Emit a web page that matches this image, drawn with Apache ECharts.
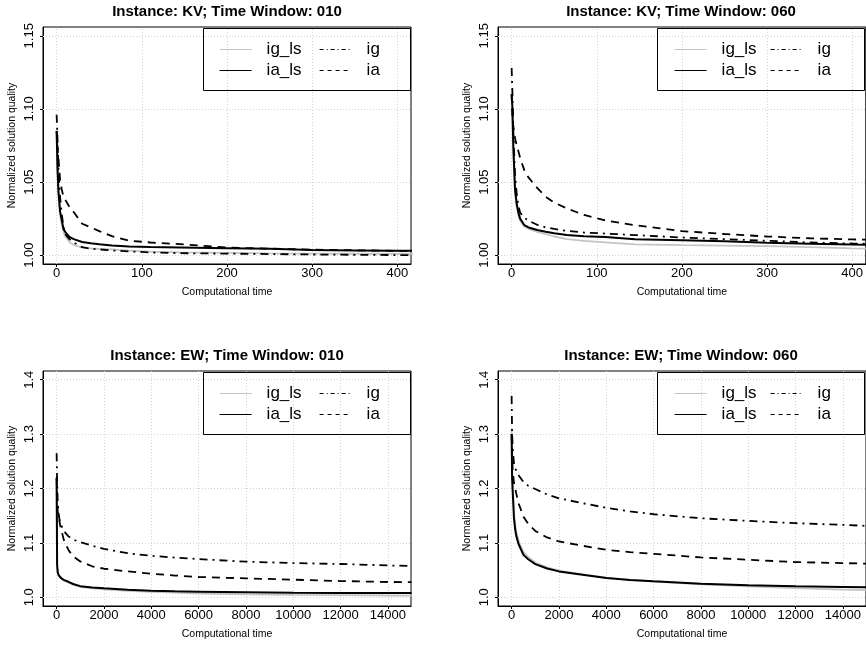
<!DOCTYPE html>
<html><head><meta charset="utf-8">
<script src="https://cdn.jsdelivr.net/npm/echarts@6/dist/echarts.min.js"></script>
<style>html,body{margin:0;padding:0;background:#fff}#c{width:866px;height:646px}</style>
</head><body><div id="c"></div>
<script>
// ---------- data ----------
const seriesNames = ['ig_ls', 'ia_ls', 'ig', 'ia'];
const panelTitles = ['Instance: KV; Time Window: 010', 'Instance: KV; Time Window: 060',
                     'Instance: EW; Time Window: 010', 'Instance: EW; Time Window: 060'];
const xAxisTitle = 'Computational time';
const yAxisTitle = 'Normalized solution quality';

const kvTicksX = [0, 100, 200, 300, 400];
const kvTicksY = [1.00, 1.05, 1.10, 1.15];
const ewTicksX = [0, 2000, 4000, 6000, 8000, 10000, 12000, 14000];
const ewTicksY = [1.0, 1.1, 1.2, 1.3, 1.4];

// KV, time window 010
const kv010_x     = [0, 1, 2, 4, 6, 8, 10, 15, 20, 30, 40, 50, 65, 85, 110, 145, 200, 250, 300, 350, 400, 420];
const kv010_ig_ls = [1.082, 1.058, 1.042, 1.028, 1.021, 1.016, 1.013, 1.009, 1.007, 1.0052, 1.0047, 1.0044, 1.004, 1.0032, 1.0024, 1.002, 1.0016, 1.0013, 1.0011, 1.001, 1.001, 1.001];
const kv010_ia_ls = [1.085, 1.060, 1.045, 1.030, 1.024, 1.018, 1.016, 1.0125, 1.011, 1.009, 1.0082, 1.0075, 1.0066, 1.0060, 1.0056, 1.0053, 1.0048, 1.0044, 1.0036, 1.0033, 1.003, 1.003];
const kv010_ig    = [1.096, 1.080, 1.060, 1.040, 1.028, 1.020, 1.0144, 1.011, 1.0087, 1.0055, 1.0045, 1.004, 1.0032, 1.0026, 1.0019, 1.0014, 1.0011, 1.0008, 1.0005, 1.0003, 1.0001, 1.0];
const kv010_ia    = [1.085, 1.075, 1.067, 1.052, 1.045, 1.040, 1.038, 1.033, 1.0295, 1.0215, 1.019, 1.0165, 1.013, 1.0100, 1.0087, 1.0076, 1.0052, 1.0045, 1.0038, 1.0034, 1.003, 1.003];

// KV, time window 060
const kv060_x     = [0, 1, 2, 4, 6, 8, 10, 15, 20, 30, 40, 50, 65, 85, 110, 145, 200, 250, 300, 350, 400, 420];
const kv060_ig_ls = [1.100, 1.090, 1.070, 1.043, 1.033, 1.027, 1.0235, 1.0195, 1.018, 1.016, 1.0145, 1.0128, 1.011, 1.0098, 1.0088, 1.0074, 1.0069, 1.0066, 1.0062, 1.0055, 1.0047, 1.0045];
const kv060_ia_ls = [1.110, 1.100, 1.074, 1.045, 1.035, 1.029, 1.025, 1.0205, 1.019, 1.0172, 1.016, 1.015, 1.0138, 1.013, 1.0125, 1.011, 1.0103, 1.0095, 1.0085, 1.0078, 1.0073, 1.0072];
const kv060_ig    = [1.128, 1.110, 1.085, 1.055, 1.042, 1.034, 1.029, 1.0255, 1.0236, 1.0208, 1.019, 1.018, 1.0166, 1.0155, 1.0148, 1.0138, 1.0121, 1.011, 1.0099, 1.0087, 1.008, 1.0078];
const kv060_ia    = [1.110, 1.095, 1.088, 1.080, 1.075, 1.071, 1.0665, 1.058, 1.053, 1.046, 1.040, 1.036, 1.032, 1.0275, 1.0238, 1.0205, 1.0165, 1.0145, 1.0128, 1.0116, 1.0108, 1.0106];

// EW, time window 010
const ew010_x     = [0, 20, 50, 100, 150, 200, 300, 500, 700, 1000, 1500, 2000, 3000, 4000, 5000, 6000, 8000, 10000, 12000, 14000, 15000];
const ew010_ig_ls = [1.21, 1.055, 1.044, 1.039, 1.036, 1.034, 1.031, 1.027, 1.023, 1.019, 1.0165, 1.0148, 1.012, 1.010, 1.0085, 1.007, 1.0055, 1.0045, 1.004, 1.0033, 1.003];
const ew010_ia_ls = [1.22, 1.06, 1.045, 1.040, 1.037, 1.035, 1.032, 1.0285, 1.0244, 1.0205, 1.018, 1.0165, 1.014, 1.0122, 1.011, 1.0104, 1.0092, 1.0082, 1.008, 1.0079, 1.0079];
const ew010_ig    = [1.265, 1.21, 1.17, 1.148, 1.138, 1.132, 1.122, 1.112, 1.106, 1.1015, 1.095, 1.089, 1.081, 1.0763, 1.073, 1.0702, 1.0655, 1.0629, 1.0612, 1.0586, 1.0575];
const ew010_ia    = [1.22, 1.18, 1.155, 1.145, 1.132, 1.124, 1.106, 1.087, 1.075, 1.066, 1.057, 1.0525, 1.0476, 1.0434, 1.040, 1.0373, 1.0348, 1.0324, 1.0299, 1.0281, 1.028];

// EW, time window 060
const ew060_x     = [0, 20, 50, 100, 150, 200, 300, 500, 700, 1000, 1500, 2000, 3000, 4000, 5000, 6000, 8000, 10000, 12000, 14000, 15000];
const ew060_ig_ls = [1.31, 1.23, 1.20, 1.155, 1.133, 1.12, 1.103, 1.083, 1.074, 1.064, 1.055, 1.049, 1.042, 1.036, 1.032, 1.029, 1.024, 1.020, 1.017, 1.014, 1.013];
const ew060_ia_ls = [1.30, 1.22, 1.19, 1.145, 1.125, 1.112, 1.097, 1.078, 1.070, 1.061, 1.053, 1.0476, 1.0415, 1.0354, 1.032, 1.0293, 1.025, 1.022, 1.0202, 1.019, 1.0183];
const ew060_ig    = [1.37, 1.30, 1.27, 1.246, 1.238, 1.232, 1.224, 1.212, 1.205, 1.199, 1.189, 1.182, 1.173, 1.1645, 1.158, 1.1527, 1.1453, 1.1405, 1.1362, 1.1331, 1.1313];
const ew060_ia    = [1.30, 1.26, 1.23, 1.21, 1.20, 1.19, 1.172, 1.148, 1.135, 1.122, 1.110, 1.1026, 1.0947, 1.0873, 1.083, 1.080, 1.0733, 1.069, 1.0647, 1.0629, 1.0617];

// ---------- build ----------
const FONT = "'Liberation Sans', Arial, Helvetica, sans-serif";
const panels = [
  { x: kv010_x, ys: [kv010_ig_ls, kv010_ia_ls, kv010_ig, kv010_ia], kind: 'kv' },
  { x: kv060_x, ys: [kv060_ig_ls, kv060_ia_ls, kv060_ig, kv060_ia], kind: 'kv' },
  { x: ew010_x, ys: [ew010_ig_ls, ew010_ia_ls, ew010_ig, ew010_ia], kind: 'ew' },
  { x: ew060_x, ys: [ew060_ig_ls, ew060_ia_ls, ew060_ig, ew060_ia], kind: 'ew' }
];
const gridBoxes = [
  { left: 43,  top: 27,  width: 368, height: 237 },
  { left: 498, top: 27,  width: 368, height: 237 },
  { left: 43,  top: 371, width: 368, height: 235 },
  { left: 498, top: 371, width: 368, height: 235 }
];
const styles = {
  ig_ls: { color: '#c4c4c4', width: 1.8, type: 'solid' },
  ia_ls: { color: '#000000', width: 2,   type: 'solid' },
  ig:    { color: '#000000', width: 1.8, type: [8, 5, 2, 5] },
  ia:    { color: '#000000', width: 1.8, type: [8, 6] }
};
const legendTypes = { ig_ls: 'solid', ia_ls: 'solid', ig: [4, 3, 1, 3], ia: [4, 4] };
const gridLineStyle = { color: '#d3d3d3', type: [1, 2], width: 1 };

const grid = [], xAxis = [], yAxis = [], series = [], legend = [], graphic = [];
panels.forEach((p, i) => {
  const g = gridBoxes[i];
  grid.push(Object.assign({ show: true, borderColor: '#000', borderWidth: 1, backgroundColor: 'transparent' }, g));
  const kv = p.kind === 'kv';
  const tx = kv ? kvTicksX : ewTicksX;
  const ty = kv ? kvTicksY : ewTicksY;
  xAxis.push({
    type: 'value', gridIndex: i,
    min: kv ? -16 : -576, max: kv ? 416 : 14976,
    axisLine: { show: true, onZero: false, lineStyle: { color: '#000', width: 1 } },
    axisTick: { show: true, inside: false, length: 3, customValues: tx, lineStyle: { color: '#000' } },
    axisLabel: { customValues: tx, margin: 3, fontSize: 13, color: '#000', fontFamily: FONT,
                 formatter: v => String(v) },
    splitLine: { show: false },
    name: xAxisTitle, nameLocation: 'middle', nameGap: 23,
    nameTextStyle: { fontSize: 10.5, color: '#000', fontFamily: FONT }
  });
  yAxis.push({
    type: 'value', gridIndex: i,
    min: kv ? 0.994 : 0.984, max: kv ? 1.156 : 1.416,
    axisLine: { show: true, onZero: false, lineStyle: { color: '#000', width: 1 } },
    axisTick: { show: true, inside: false, length: 3, customValues: ty, lineStyle: { color: '#000' } },
    axisLabel: { customValues: ty, rotate: 90, margin: 7, fontSize: 13, color: '#000', fontFamily: FONT,
                 formatter: v => v.toFixed(kv ? 2 : 1) },
    splitLine: { show: false },
    name: yAxisTitle, nameLocation: 'middle', nameGap: 25, nameRotate: 90,
    nameTextStyle: { fontSize: 10.5, color: '#000', fontFamily: FONT }
  });
  seriesNames.forEach((n, k) => {
    const s = styles[n];
    const sr = {
      type: 'line', name: n, xAxisIndex: i, yAxisIndex: i,
      data: p.x.map((xv, j) => [xv, p.ys[k][j]]),
      symbol: 'none', showSymbol: false, smooth: false, clip: true, animation: false,
      lineStyle: { color: s.color, width: s.width, type: s.type }, itemStyle: { color: s.color },
      emphasis: { disabled: true }, z: 3 + k
    };
    if (k === 0) {
      sr.markLine = {
        silent: true, symbol: ['none', 'none'], animation: false, z: 1,
        label: { show: false }, lineStyle: gridLineStyle, emphasis: { disabled: true },
        data: tx.map(v => ({ xAxis: v })).concat(ty.map(v => ({ yAxis: v })))
      };
    }
    series.push(sr);
  });
  graphic.push({
    type: 'text', x: g.left + g.width / 2 - (i % 2 ? 1 : 0), y: g.top - 15.5,
    style: { text: panelTitles[i], fontSize: 15, fontWeight: 'bold', fill: '#000', fontFamily: FONT,
             textAlign: 'center', textVerticalAlign: 'middle' }
  });
  const lx = i % 2 ? 657 : 203;
  graphic.push({
    type: 'rect', shape: { x: lx + 0.5, y: g.top + 1.5, width: 207, height: 62 },
    style: { fill: 'none', stroke: '#000', lineWidth: 1 }, z: 10
  });
  const cols = i % 2 ? [674, 770] : [219, 319];
  [[ 'ig_ls', 'ia_ls' ], [ 'ig', 'ia' ]].forEach((names, c) => {
    legend.push({
      orient: 'vertical', left: cols[c], top: g.top + 14, itemWidth: 32, itemHeight: 14, itemGap: 4,
      selectedMode: false, padding: 0,
      data: names.map(n => ({ name: n, lineStyle: { type: legendTypes[n], width: 1.2 } })),
      itemStyle: { opacity: 0 },
      lineStyle: { width: 1.2 },
      textStyle: { fontSize: 17, color: '#000', fontFamily: FONT, padding: [0, 0, 0, 10] }
    });
  });
});

const chart = echarts.init(document.getElementById('c'), null, { renderer: 'canvas' });
chart.setOption({
  animation: false, backgroundColor: '#fff',
  grid, xAxis, yAxis, series, legend, graphic
});
</script></body></html>
